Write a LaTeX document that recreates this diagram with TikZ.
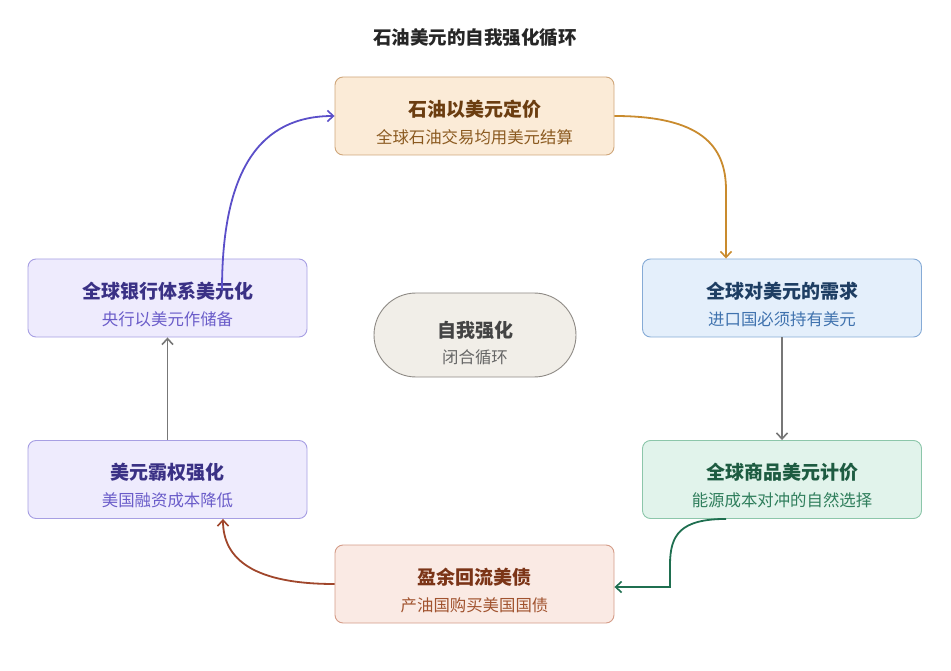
\documentclass[tikz,border=0pt]{standalone}
\usepackage{fontspec}
\setmainfont{Noto Sans CJK SC}
\usetikzlibrary{arrows.meta,calc}
\definecolor{orF}{HTML}{FBEBD7}\definecolor{orB}{HTML}{CFA67A}\definecolor{orT}{HTML}{6B3D10}\definecolor{orS}{HTML}{8B5A20}\definecolor{orA}{HTML}{C98B2E}
\definecolor{puF}{HTML}{EEEBFD}\definecolor{puB}{HTML}{A79FE3}\definecolor{puT}{HTML}{3A3185}\definecolor{puS}{HTML}{6A5CC9}\definecolor{puA}{HTML}{5B4FC9}
\definecolor{blF}{HTML}{E4EFFB}\definecolor{blB}{HTML}{86ABD6}\definecolor{blT}{HTML}{1E3E63}\definecolor{blS}{HTML}{3F72AE}
\definecolor{grF}{HTML}{E1F3EB}\definecolor{grB}{HTML}{8CC6AA}\definecolor{grT}{HTML}{1D5B41}\definecolor{grS}{HTML}{2F7E5C}\definecolor{grA}{HTML}{1F6F50}
\definecolor{rdF}{HTML}{FAEAE4}\definecolor{rdB}{HTML}{D49C88}\definecolor{rdT}{HTML}{7B3417}\definecolor{rdS}{HTML}{A1532F}\definecolor{rdA}{HTML}{A0462B}
\definecolor{gyF}{HTML}{F1EEE8}\definecolor{gyB}{HTML}{8E8A85}\definecolor{gyT}{HTML}{444444}\definecolor{gyS}{HTML}{666666}\definecolor{gyA}{HTML}{777777}
\tikzset{
  box/.style={draw, rounded corners=8pt, line width=0.9pt, minimum width=279pt, minimum height=78pt, inner sep=0pt},
  ttl/.style={font=\bfseries\fontsize{19}{22}\selectfont, inner sep=0pt},
  sub/.style={font=\fontsize{16.4}{19}\selectfont, inner sep=0pt},
  conn/.style={line width=1.8pt, -{Straight Barb[length=6pt,width=11pt,line width=1.6pt]}}
}
\begin{document}
\begin{tikzpicture}[x=1pt,y=-1pt]
\useasboundingbox (0,0) rectangle (951,671);
\node[font=\bfseries\fontsize{18.5}{22}\selectfont, text=black!85] (title) at (475,38) {石油美元的自我强化循环};

\node[box, fill=orF, draw=orB] (oil) at (474.5,116) {};
\node[ttl, text=orT] (oilt) at ($(oil.center)+(0,-7)$) {石油以美元定价};
\node[sub, text=orS] (oils) at ($(oil.center)+(0,21)$) {全球石油交易均用美元结算};

\node[box, fill=blF, draw=blB] (dem) at (782,298) {};
\node[ttl, text=blT] (demt) at ($(dem.center)+(0,-7)$) {全球对美元的需求};
\node[sub, text=blS] (dems) at ($(dem.center)+(0,21)$) {进口国必须持有美元};

\node[box, fill=grF, draw=grB] (com) at (782,479.5) {};
\node[ttl, text=grT] (comt) at ($(com.center)+(0,-7)$) {全球商品美元计价};
\node[sub, text=grS] (coms) at ($(com.center)+(0,21)$) {能源成本对冲的自然选择};

\node[box, fill=rdF, draw=rdB] (sur) at (474.5,584) {};
\node[ttl, text=rdT] (surt) at ($(sur.center)+(0,-7)$) {盈余回流美债};
\node[sub, text=rdS] (surs) at ($(sur.center)+(0,21)$) {产油国购买美国国债};

\node[box, fill=puF, draw=puB] (heg) at (167.5,479.5) {};
\node[ttl, text=puT] (hegt) at ($(heg.center)+(0,-7)$) {美元霸权强化};
\node[sub, text=puS] (hegs) at ($(heg.center)+(0,21)$) {美国融资成本降低};

\node[box, fill=puF, draw=puB] (bank) at (167.5,298) {};
\node[ttl, text=puT] (bankt) at ($(bank.center)+(0,-7)$) {全球银行体系美元化};
\node[sub, text=puS] (banks) at ($(bank.center)+(0,21)$) {央行以美元作储备};

\node[draw=gyB, fill=gyF, rounded corners=42pt, line width=0.9pt, minimum width=202pt, minimum height=84pt] (loop) at (475,335) {};
\node[ttl, text=gyT] (loopt) at ($(loop.center)+(0,-5)$) {自我强化};
\node[sub, text=gyS] (loops) at ($(loop.center)+(0,22)$) {闭合循环};

% connectors
\coordinate (demin) at ($(dem.north)+(-56,0)$);
\draw[conn, draw=orA] (oil.east) .. controls (700,116) and (726,145) .. (726,190) -- (demin);

\draw[conn, draw=gyA] (dem.south) -- (com.north);

\coordinate (comout) at ($(com.south)+(-56,0)$);
\coordinate (surin) at ($(sur.east)+(0,3)$);
\draw[conn, draw=grA] (comout) .. controls (680,519) and (670,535) .. (670,565) -- (670,587) -- (surin);

\coordinate (hegin) at ($(heg.south)+(55.5,0)$);
\draw[conn, draw=rdA] (sur.west) .. controls (255,584) and (223,560) .. (hegin);

\draw[conn, draw=gyA] (heg.north) -- (bank.south);

\coordinate (bankout) at ($(bank.center)+(54.5,-8)$);
\draw[conn, draw=puA] (bankout) .. controls (222,170) and (260,116) .. (oil.west);
\end{tikzpicture}
\end{document}
